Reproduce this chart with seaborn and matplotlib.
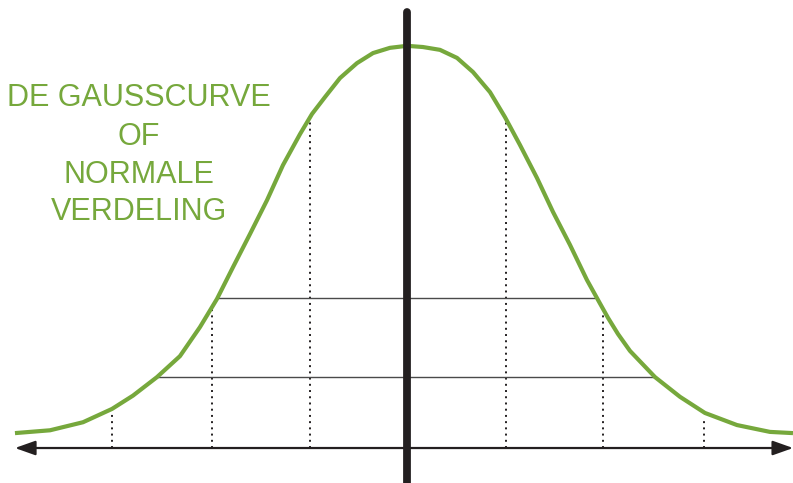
import matplotlib
matplotlib.use("Agg")
import matplotlib.pyplot as plt
import seaborn as sns
import pandas as pd

# curve: x in sigma units, height relative to the peak
curve_z = [-3.980, -3.624, -3.289, -2.995, -2.782, -2.538, -2.305, -2.102, -1.929, -1.766,
           -1.594, -1.421, -1.259, -1.086, -0.964, -0.832, -0.680, -0.508, -0.345, -0.173,
           0.0, 0.162, 0.335, 0.508, 0.670, 0.843, 0.995, 1.147, 1.320, 1.482,
           1.655, 1.827, 1.929, 2.041, 2.142, 2.264, 2.518, 2.772, 3.025, 3.350,
           3.685, 3.919]
curve_h = [0.037, 0.044, 0.064, 0.097, 0.130, 0.176, 0.228, 0.300, 0.370, 0.449,
           0.531, 0.615, 0.702, 0.779, 0.829, 0.871, 0.918, 0.955, 0.980, 0.993,
           0.998, 0.995, 0.988, 0.968, 0.933, 0.883, 0.821, 0.752, 0.670, 0.586,
           0.504, 0.417, 0.372, 0.323, 0.283, 0.241, 0.176, 0.127, 0.087, 0.057,
           0.040, 0.037]

# dotted sigma lines (positions as drawn) and where they stop under the curve
sigma_marks = [-2.995, -1.980, -0.985, 1.005, 1.995, 3.020]
dotted_tops = [0.089, 0.350, 0.821, 0.819, 0.335, 0.077]

band_levels = [0.372, 0.176]
band_left = [-1.919, -2.538]
band_right = [1.909, 2.518]

title_lines = ["DE GAUSSCURVE", "OF", "NORMALE", "VERDELING"]

green = "#76a83c"
dark = "#231f20"

sns.set_theme(style="white")
plt.rcParams["font.family"] = ["Liberation Sans", "DejaVu Sans"]

fig = plt.figure(figsize=(7.93, 4.83), dpi=100)
ax = fig.add_axes([0, 0, 1, 1])

df = pd.DataFrame({"z": curve_z, "h": curve_h})

# dotted sigma lines
ax.vlines(sigma_marks, 0, dotted_tops, colors=dark, linewidth=1.4,
          linestyles=[(0, (1, 2.2))], zorder=1)

# thin horizontal bands
ax.hlines(band_levels, band_left, band_right, colors="#4a4a4a", linewidth=1.0, zorder=1)

# the curve
sns.lineplot(data=df, x="z", y="h", ax=ax, color=green, linewidth=3.0, zorder=3,
             solid_joinstyle="round", solid_capstyle="butt")

# horizontal axis with arrowheads
ax.annotate("", xy=(3.92, 0), xytext=(-3.98, 0),
            arrowprops=dict(arrowstyle="<|-|>,head_length=0.62,head_width=0.22",
                            mutation_scale=20, color=dark, lw=1.6,
                            shrinkA=0, shrinkB=0), zorder=4)

# thick centre line
ax.plot([0, 0], [-0.2, 1.083], color=dark, linewidth=5.6,
        solid_capstyle="round", zorder=5)

# title text
title_y = [0.849, 0.752, 0.658, 0.566]
for line, y in zip(title_lines, title_y):
    ax.text(-2.72, y, line, color=green, fontsize=22, ha="center", va="baseline")

ax.set_xlim(-4.132, 3.919)
ax.set_ylim(-0.0868, 1.1117)
ax.axis("off")

fig.savefig("out.png", dpi=100)
